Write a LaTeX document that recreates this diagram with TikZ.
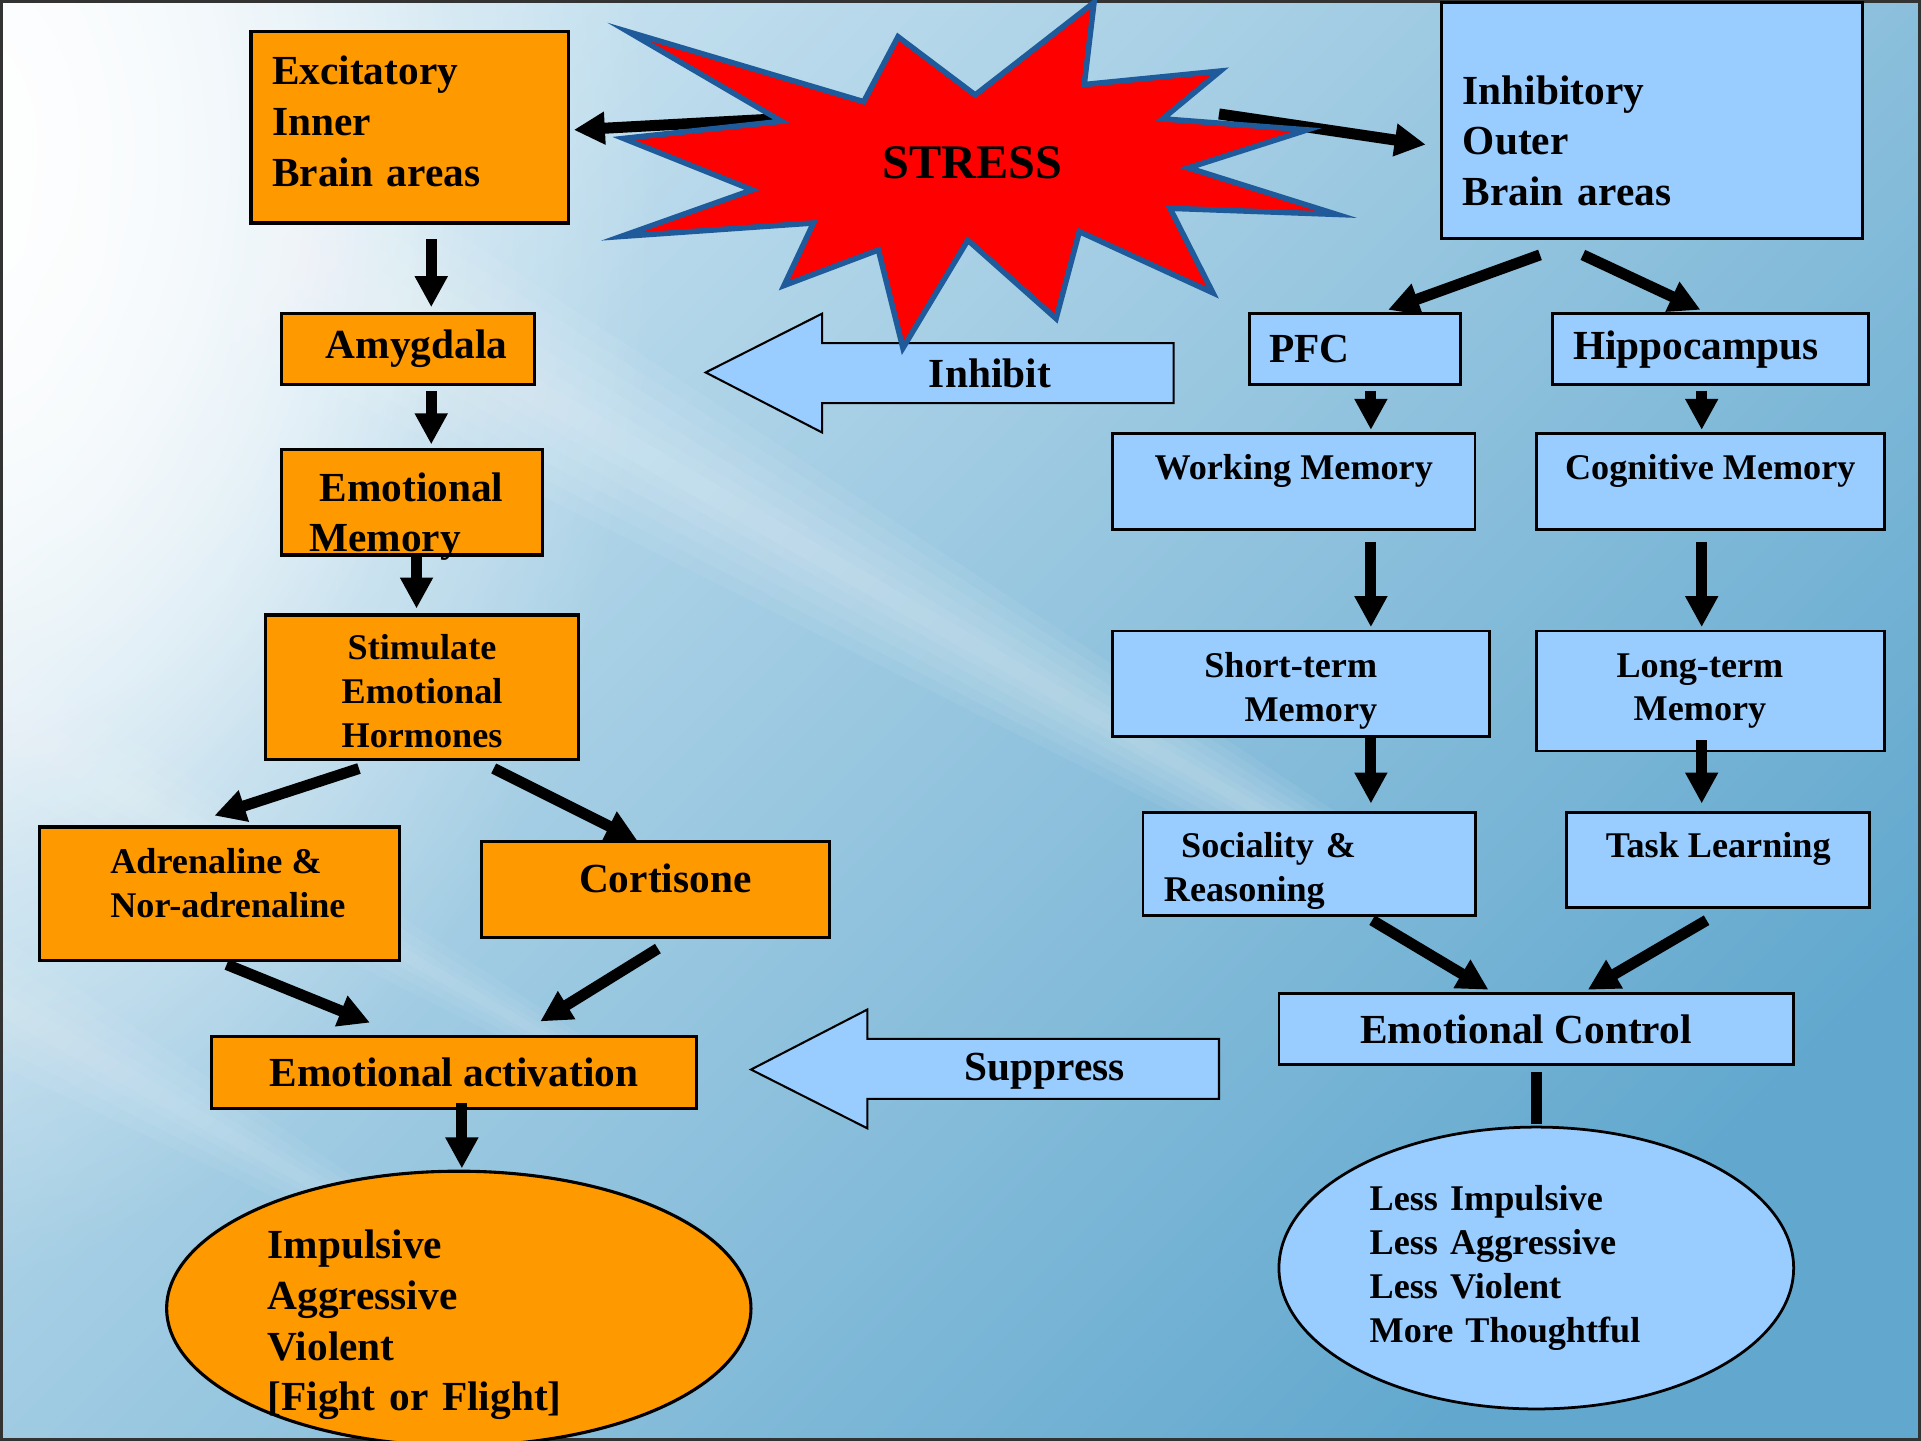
\documentclass[tikz,border=0pt]{standalone}
\usepackage{fontspec}
\setmainfont{Liberation Serif}
\usetikzlibrary{arrows.meta,calc,shapes.geometric,fadings}

\definecolor{brainorange}{HTML}{FF9900}
\definecolor{brainblue}{HTML}{99CCFF}
\definecolor{stressred}{HTML}{FF0000}
\definecolor{stressedge}{HTML}{1F5A9A}
\definecolor{bgtop}{HTML}{C8E2F0}
\definecolor{bgbot}{HTML}{62A8CE}

\tikzfading[name=glow, inner color=transparent!0, outer color=transparent!100]

\newcommand{\tstrut}[1]{\rule{0pt}{#1}}
\newcommand{\bstrut}[1]{\rule[-#1]{0pt}{#1}}

\begin{document}
\begin{tikzpicture}[x=0.0125cm, y=-0.0125cm]
  \tikzstyle{o} = [rectangle, draw=black, line width=0.9pt, fill=brainorange,
  inner sep=0pt, font=\bfseries\fontsize{12}{14.7}\selectfont];
  \tikzstyle{b} = [o, fill=brainblue, line width=0.8pt];
  \tikzstyle{s} = [font=\bfseries\fontsize{10.5}{12.7}\selectfont];
  \tikzstyle{e} = [ellipse, inner sep=0pt];
  \tikzstyle{a} = [line width=3.2pt, -{Triangle[width=9pt,length=9pt]}];
  \tikzstyle{big} = [draw=black, line width=0.6pt, fill=brainblue];

  \useasboundingbox (0,0) rectangle (1568,1176);
  \shade[top color=bgtop, bottom color=bgbot, shading angle=45] (0,0) rectangle (1568,1176);
  \fill[white, path fading=glow] (-80,150) ellipse (620 and 900);
  \fill[white, path fading=glow] (-40,120) ellipse (420 and 600);
  \begin{scope}[shift={(-100,10)}, rotate=-30]
    \foreach \w in {110,90,70,50,30,15}
      \fill[white, opacity=0.06] (0,-\w) -- (1400,-\w/4) -- (1400,\w/4) -- (0,\w) -- cycle;
  \end{scope}
  \begin{scope}[shift={(-50,560)}, rotate=-30]
    \foreach \w in {50,35,20,10}
      \fill[white, opacity=0.05] (0,-\w) -- (650,-\w/4) -- (650,\w/4) -- (0,\w) -- cycle;
  \end{scope}
  \begin{scope}[shift={(-50,790)}, rotate=-30]
    \foreach \w in {50,35,20,10}
      \fill[white, opacity=0.05] (0,-\w) -- (500,-\w/4) -- (500,\w/4) -- (0,\w) -- cycle;
  \end{scope}
  \draw[black!80, line width=0.8pt] (1,1) rectangle (1567,1175);

  \filldraw[big] (576,304) -- (671,256) -- (671,280) -- (958,280) -- (958,329)
    -- (671,329) -- (671,353) -- cycle;
  \node[font=\bfseries\fontsize{12}{14.7}\selectfont] (inhibit) at (808,305) {Inhibit};
  \filldraw[big] (613,873) -- (708,824) -- (708,848) -- (995,848) -- (995,897)
    -- (708,897) -- (708,921) -- cycle;
  \node[font=\bfseries\fontsize{12}{14.7}\selectfont] (suppress) at (853,874) {Suppress};

  \node[o, minimum width=3.24cm, minimum height=1.95cm, text width=2.81cm, align=left] (exc) at (334.5,104) {Excitatory\\Inner\\Brain areas\bstrut{3.6pt}};
  \node[b, minimum width=4.29cm, minimum height=2.41cm, text width=3.86cm, align=left] (inh) at (1348.5,98.5) {\tstrut{20pt}Inhibitory\\Outer\\Brain areas};

  \coordinate (sL) at (635,97);
  \coordinate (sR) at (995,93);
  \draw[a] (sL) -- ($(exc.east)+(3,2)$);
  \draw[a] (sR) -- ($(inh.west)+(-12,19.5)$);

  \filldraw[fill=stressred, draw=stressedge, line width=1.6pt] (893,2) -- (885,69) -- (996,58)
    -- (949,97) -- (1067,106) -- (970,137) -- (1091,175) -- (955,170) -- (990,239)
    -- (881,189) -- (862,260) -- (790,196) -- (737,284) -- (717,204) -- (640,233)
    -- (664,182) -- (507,193) -- (614,155) -- (509,113) -- (638,99) -- (513,26)
    -- (705,83) -- (733,30) -- (796,77.5) -- cycle;
  \node[font=\bfseries\fontsize{14}{16}\selectfont] (stress) at (794,133) {STRESS};

  \node[o, minimum width=2.575cm, minimum height=0.725cm] (amy) at (333,285) {\hspace{5pt}Amygdala};
  \node[o, minimum width=2.66cm, minimum height=1.075cm, inner ysep=-3pt, text width=2.1cm, align=left] (emo) at (336.5,410) {\tstrut{16.7pt}\hspace{3pt}Emotional\\Memory};
  \node[o, s, minimum width=3.19cm, minimum height=1.475cm, align=center] (stim) at (344.5,561) {\tstrut{9.5pt}Stimulate\\Emotional\\Hormones};
  \node[o, s, minimum width=3.675cm, minimum height=1.3625cm, align=left] (adr) at (179,729.5) {\hspace{5pt}Adrenaline \&\\\hspace{5pt}Nor-adrenaline\bstrut{6.4pt}};
  \node[o, minimum width=3.55cm, minimum height=0.975cm] (cort) at (535,726) {\hspace{5.7pt}Cortisone\bstrut{6.4pt}};
  \node[o, minimum width=4.94cm, minimum height=0.7375cm] (act) at (370.5,875.5) {Emotional activation};
  \node[o, e, minimum width=5.96cm, minimum height=2.8cm, inner ysep=-8pt, text width=3.9cm, align=left] (fight) at (374.5,1068) {\tstrut{18pt}Impulsive\\Aggressive\\Violent\\{[Fight or Flight]}};

  \node[b, minimum width=2.15cm, minimum height=0.725cm, text width=1.75cm, align=left] (pfc) at (1106,285) {PFC};
  \node[b, minimum width=3.225cm, minimum height=0.725cm, text width=2.8cm, align=left] (hip) at (1396,285) {Hippocampus};
  \node[b, s, minimum width=3.7cm, minimum height=0.975cm] (wm) at (1056,393) {Working Memory\bstrut{8.7pt}};
  \node[b, s, minimum width=3.55cm, minimum height=0.975cm] (cm) at (1396,393) {Cognitive Memory\bstrut{8.7pt}};
  \node[b, s, minimum width=3.85cm, minimum height=1.075cm, align=right] (stm) at (1062,558) {\tstrut{11.5pt}Short-term\hspace*{6pt}\\Memory\hspace*{6pt}};
  \node[b, s, minimum width=3.55cm, minimum height=1.225cm, align=center] (ltm) at (1396,564) {Long-term\hspace*{6pt}\\Memory\hspace*{6pt}};
  \node[b, s, minimum width=3.39cm, minimum height=1.05cm, text width=2.96cm, align=left] (soc) at (1068.5,705) {\tstrut{11.5pt}\hspace{5pt}Sociality \&\\Reasoning};
  \node[b, s, minimum width=3.09cm, minimum height=0.975cm] (task) at (1402.5,702) {Task Learning\bstrut{8.5pt}};
  \node[b, minimum width=5.25cm, minimum height=0.725cm] (ectl) at (1254,840) {Emotional Control\hspace*{6pt}};
  \node[b, s, e, minimum width=5.25cm, minimum height=2.875cm, text width=3.4cm, align=left] (calm) at (1254,1035) {Less Impulsive\\Less Aggressive\\Less Violent\\More Thoughtful};

  \draw[a] ($(exc.south)+(17.5,12)$) -- ($(amy.north)+(19,-4)$);
  \draw[a] ($(amy.south)+(19,4)$) -- ($(emo.north)+(15.5,-3)$);
  \draw[a] ($(emo.south)+(3.5,0)$) -- ($(stim.north)+(-4.5,-4)$);
  \draw[a] ($(stim.south)+(-51.5,6)$) -- ($(adr.north)+(-4,-8)$);
  \draw[a] ($(stim.south)+(58.5,6)$) -- ($(cort.north)+(-15,0)$);
  \draw[a] ($(adr.south)+(6,2)$) -- ($(act.north)+(-68.5,-10)$);
  \draw[a] ($(cort.south)+(2,8)$) -- ($(act.north)+(70.5,-11)$);
  \draw[a] ($(act.south)+(6.5,-6)$) -- ($(fight.north)+(2.5,-1)$);

  \draw[a] ($(inh.south)+(-91.5,12)$) -- ($(pfc.north)+(27,-2)$);
  \draw[a] ($(inh.south)+(-56.5,12)$) -- ($(hip.north)+(-8,-2)$);
  \draw[a] ($(pfc.south)+(13,4)$) -- ($(wm.north)+(63,-2)$);
  \draw[a] ($(hip.south)+(-7,4)$) -- ($(cm.north)+(-7,-2)$);
  \draw[a] ($(wm.south)+(63,9)$) -- ($(stm.north)+(57,-2)$);
  \draw[a] ($(cm.south)+(-7,9)$) -- ($(ltm.north)+(-7,-2)$);
  \draw[a] ($(stm.south)+(57,0)$) -- ($(soc.north)+(50.5,-6)$);
  \draw[a] ($(ltm.south)+(-7,-10)$) -- ($(task.north)+(-13.5,-6)$);
  \draw[a] ($(soc.south)+(51.5,3)$) -- ($(ectl.north)+(-39,-2)$);
  \draw[a] ($(task.south)+(-9.5,9)$) -- ($(ectl.north)+(42,-2)$);
  \draw[line width=3.2pt] ($(ectl.south)+(0,5)$) -- ($(calm.north)+(0,-1)$);
\end{tikzpicture}
\end{document}
